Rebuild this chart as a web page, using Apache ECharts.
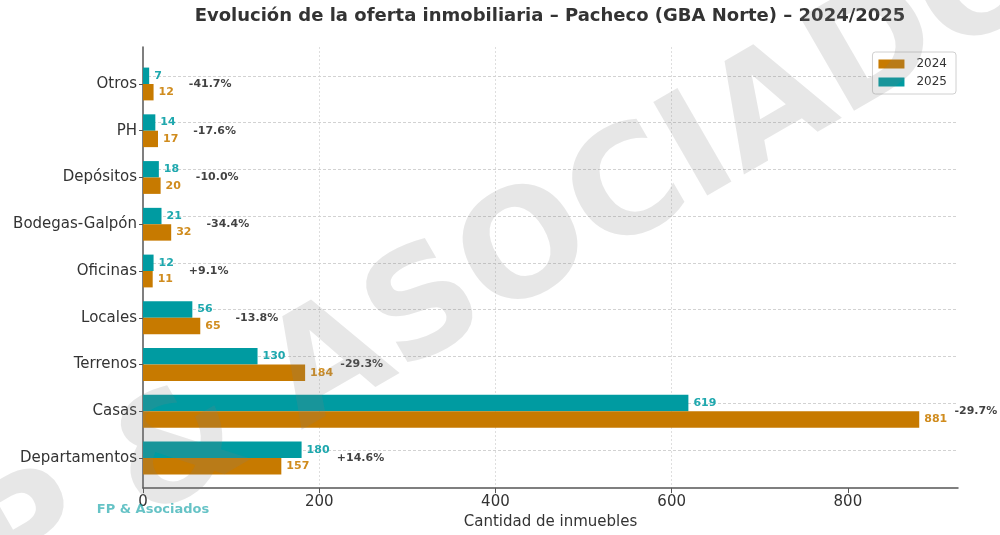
<!DOCTYPE html>
<html>
<head>
<meta charset="utf-8">
<script src="https://cdn.jsdelivr.net/npm/echarts@6/dist/echarts.min.js"></script>
<style>
  html, body { margin: 0; padding: 0; background: #fff; }
  #chart { width: 1000px; height: 535px; }
</style>
</head>
<body>
<div id="chart"></div>
<script>
// Listings per property type, Pacheco (GBA Norte)
const categories = ['Departamentos', 'Casas', 'Terrenos', 'Locales', 'Oficinas', 'Bodegas-Galpón', 'Depósitos', 'PH', 'Otros'];
const values2024 = [157, 881, 184, 65, 11, 32, 20, 17, 12];
const values2025 = [180, 619, 130, 56, 12, 21, 18, 14, 7];
const changeLabels = ['+14.6%', '-29.7%', '-29.3%', '-13.8%', '+9.1%', '-34.4%', '-10.0%', '-17.6%', '-41.7%'];
const xTicks = [0, 200, 400, 600, 800];
const xMax = 925;
const changeOffset = 40; // change label sits this many units past the longer bar

const FONT = 'DejaVu Sans';
const TEAL = '#009ba1';
const ORANGE = '#c77a00';

const changePoints = categories.map((c, i) => [Math.max(values2024[i], values2025[i]) + changeOffset, c]);

const chart = echarts.init(document.getElementById('chart'), null, { renderer: 'canvas' });

chart.setOption({
  animation: false,
  backgroundColor: '#ffffff',
  textStyle: { fontFamily: FONT },
  grid: [
    // bars live here; band height matches the category spacing
    { left: 143, right: 42, top: 60.6, bottom: 53.6, containLabel: false },
    // frame: spines, x ticks and vertical grid
    { left: 143, right: 42, top: 47, bottom: 42, containLabel: false }
  ],
  xAxis: [
    { gridIndex: 0, type: 'value', min: 0, max: xMax, show: false },
    {
      gridIndex: 1, type: 'value', min: 0, max: xMax, interval: 200,
      name: 'Cantidad de inmuebles', nameLocation: 'middle', nameGap: 25,
      nameTextStyle: { fontFamily: FONT, fontSize: 15, color: '#333' },
      axisLine: { show: true, lineStyle: { color: '#555', width: 1.5 } },
      axisTick: { show: true, length: 5, customValues: xTicks, lineStyle: { color: '#555' } },
      axisLabel: { customValues: xTicks, margin: 7, fontFamily: FONT, fontSize: 15, color: '#333' },
      splitLine: { show: true, showMinLine: false, showMaxLine: false, lineStyle: { color: '#dedede', type: [2, 2], width: 1 } }
    }
  ],
  yAxis: [
    {
      gridIndex: 0, type: 'category', data: categories,
      axisLine: { show: false },
      axisTick: { show: true, alignWithLabel: true, length: 4, lineStyle: { color: '#555' } },
      axisLabel: { margin: 6, fontFamily: FONT, fontSize: 15, color: '#333' },
      splitLine: { show: false }
    },
    {
      gridIndex: 1, type: 'value', min: 0, max: 1,
      axisLine: { show: true, lineStyle: { color: '#555', width: 1.5 } },
      axisTick: { show: false }, axisLabel: { show: false }, splitLine: { show: false }
    }
  ],
  legend: {
    data: ['2024', '2025'],
    orient: 'vertical', right: 44, top: 52,
    itemWidth: 26, itemHeight: 9, itemGap: 6,
    icon: 'rect',
    padding: [6, 9, 6, 6],
    backgroundColor: '#fff', borderColor: '#d0d0d0', borderWidth: 1, borderRadius: 3,
    textStyle: { fontFamily: FONT, fontSize: 12, color: '#333', padding: [0, 0, 0, 7] }
  },
  series: [
    {
      name: '2025', type: 'bar', xAxisIndex: 0, yAxisIndex: 0,
      data: values2025, barWidth: 16.4, barGap: '0%',
      itemStyle: { color: TEAL },
      label: { show: true, position: 'right', distance: 5, fontFamily: FONT, fontSize: 11, fontWeight: 'bold', color: '#1fa8ae' },
      markLine: {
        silent: true, symbol: 'none', z: 1,
        label: { show: false },
        lineStyle: { color: '#d2d2d2', type: [3, 2], width: 1 },
        data: categories.map(c => ({ yAxis: c }))
      }
    },
    {
      name: '2024', type: 'bar', xAxisIndex: 0, yAxisIndex: 0,
      data: values2024, barWidth: 16.4, barGap: '0%',
      itemStyle: { color: ORANGE },
      label: { show: true, position: 'right', distance: 5, fontFamily: FONT, fontSize: 11, fontWeight: 'bold', color: '#d08c1e' }
    },
    {
      name: 'variación', type: 'scatter', xAxisIndex: 0, yAxisIndex: 0,
      data: changePoints, symbolSize: 0, silent: true,
      label: {
        show: true, position: 'right', distance: 0,
        formatter: p => changeLabels[p.dataIndex],
        fontFamily: FONT, fontSize: 11, fontWeight: 'bold', color: '#111'
      }
    }
  ],
  graphic: [
    {
      type: 'text', x: 550, y: 16, silent: true,
      style: { text: 'Evolución de la oferta inmobiliaria – Pacheco (GBA Norte) – 2024/2025', fontFamily: FONT, fontSize: 18, fontWeight: 'bold', fill: '#333', align: 'center', verticalAlign: 'middle' }
    },
    {
      type: 'text', x: 153, y: 510, silent: true, z: 50,
      style: { text: 'FP & Asociados', fontFamily: FONT, fontSize: 13, fontWeight: 'bold', fill: 'rgba(0,155,160,0.6)', align: 'center', verticalAlign: 'middle' }
    },
    {
      type: 'text', x: 515, y: 262, rotation: Math.PI / 6, silent: true, z: 100,
      style: { text: 'FP & ASOCIADOS', fontFamily: FONT, fontSize: 148, fontWeight: 'bold', fill: 'rgba(128,128,128,0.19)', align: 'center', verticalAlign: 'middle' }
    }
  ]
});
</script>
</body>
</html>
